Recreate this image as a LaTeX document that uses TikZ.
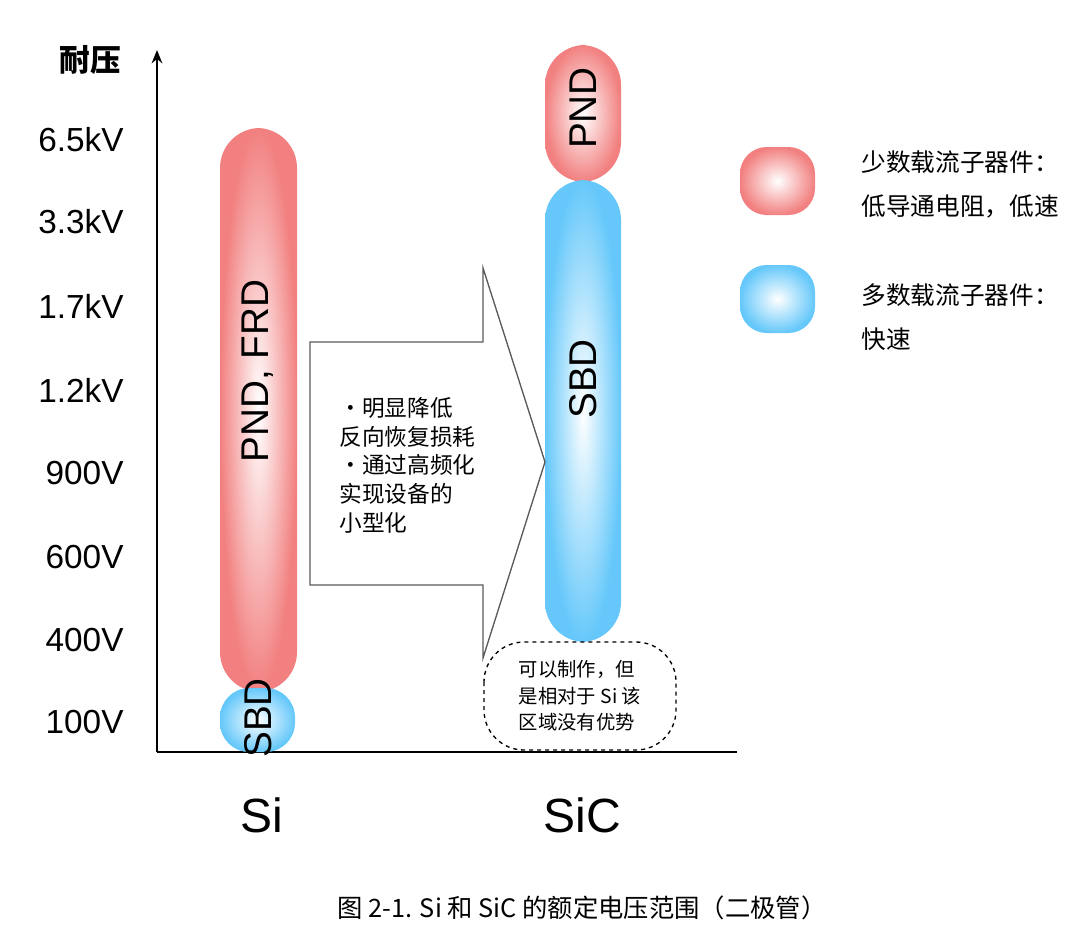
\documentclass[tikz,border=0pt]{standalone}
\usepackage{fontspec}
\setmainfont{Liberation Sans}
\newfontfamily\cjk{Noto Sans CJK SC}
\usetikzlibrary{arrows.meta}
\definecolor{pndred}{RGB}{242,128,128}
\definecolor{sbdblue}{RGB}{102,200,250}
\tikzset{every picture/.style={line width=0.75pt}}
\tikzset{
  bar/.style={rounded corners=30pt, draw=none, inner sep=0pt, shading=radial, inner color=white},
  redbar/.style={bar, outer color=pndred},
  bluebar/.style={bar, outer color=sbdblue},
  vlabel/.style={anchor=east, inner sep=0.75pt, font=\fontsize{25}{28}\selectfont},
  bartext/.style={rotate=90, inner sep=0.75pt, font=\fontsize{29}{32}\selectfont},
  legtext/.style={anchor=west, inner sep=0.75pt, font=\cjk\fontsize{18.5}{22}\selectfont}
}

\begin{document}
\begin{tikzpicture}[x=0.75pt,y=0.75pt,yscale=-1,xscale=1]
	\useasboundingbox (0,0) rectangle (1080,949);

	%Shape: Axis 2D
	\coordinate (orig) at (157,752);
	\coordinate (ytop) at (157,50);
	\coordinate (xend) at (737,752);
	\draw [line width=1.5pt, -{Stealth[length=10pt,width=8pt]}] (orig) -- (ytop);
	\draw [line width=1.5pt] (orig) -- (xend);

	% Text Node
	\node (vaxis) at (90,60) {\cjk\bfseries\fontsize{23}{26}\selectfont 耐压};
	\node [vlabel] (v65) at (125,140) {6.5kV};
	\node [vlabel] (v33) at (125,222) {3.3kV};
	\node [vlabel] (v17) at (125,306) {1.7kV};
	\node [vlabel] (v12) at (125,390) {1.2kV};
	\node [vlabel] (v900) at (125,473) {900V};
	\node [vlabel] (v600) at (125,557) {600V};
	\node [vlabel] (v400) at (125,640) {400V};
	\node [vlabel] (v100) at (125,722) {100V};

	%Shape: Si bars
	\path [redbar] (220,128) rectangle (297,692);
	\path [bluebar, rounded corners=22pt] (220,688) rectangle (295,752);
	\node [bartext] (sipnd) at (258,371) {PND, FRD};
	\node [bartext] (sisbd) at (258,718) {SBD};

	%Shape: SiC bars
	\path [redbar] (545,45) rectangle (621,182);
	\path [bluebar] (545,180) rectangle (621,642);
	\node [bartext] (sicpnd) at (583,108) {PND};
	\node [bartext] (sicsbd) at (583,379) {SBD};

	%Shape: Right Arrow
	\draw [draw={rgb, 255:red, 90; green, 90; blue, 90}, fill=white, line width=1pt]
	  (310,342) -- (483,342) -- (483,268) -- (545,462) -- (483,658) -- (483,585) -- (310,585) -- cycle;
	% Text Node
	\node [anchor=north west, align=left, inner sep=0.75pt, font=\cjk\fontsize{17}{21.5}\selectfont] (gain) at (338,396)
	  {·明显降低\\反向恢复损耗\\·通过高频化\\实现设备的\\小型化};

	%Shape: Dashed box
	\draw [dashed, line width=1pt, rounded corners=30pt] (484,642) rectangle (676,750);
	\node [align=left, inner sep=0.75pt, font=\cjk\fontsize{14.5}{20}\selectfont] (note) at (580,696)
	  {可以制作，但\\是相对于 Si 该\\区域没有优势};

	%Shape: Legend
	\path [redbar, rounded corners=20pt] (740,147) rectangle (815,215);
	\path [bluebar, rounded corners=20pt] (740,265) rectangle (815,333);
	\node [legtext] (lgmin1) at (860,162) {少数载流子器件：};
	\node [legtext] (lgmin2) at (860,206) {低导通电阻，低速};
	\node [legtext] (lgmaj1) at (860,295) {多数载流子器件：};
	\node [legtext] (lgmaj2) at (860,339) {快速};

	% Text Node
	\node [font=\fontsize{36}{40}\selectfont] (si) at (262,815) {Si};
	\node [font=\fontsize{36}{40}\selectfont] (sic) at (582,815) {SiC};
	\node [font=\cjk\fontsize{19}{22}\selectfont] (caption) at (582,908) {图 2-1. Si 和 SiC 的额定电压范围（二极管）};
\end{tikzpicture}
\end{document}
